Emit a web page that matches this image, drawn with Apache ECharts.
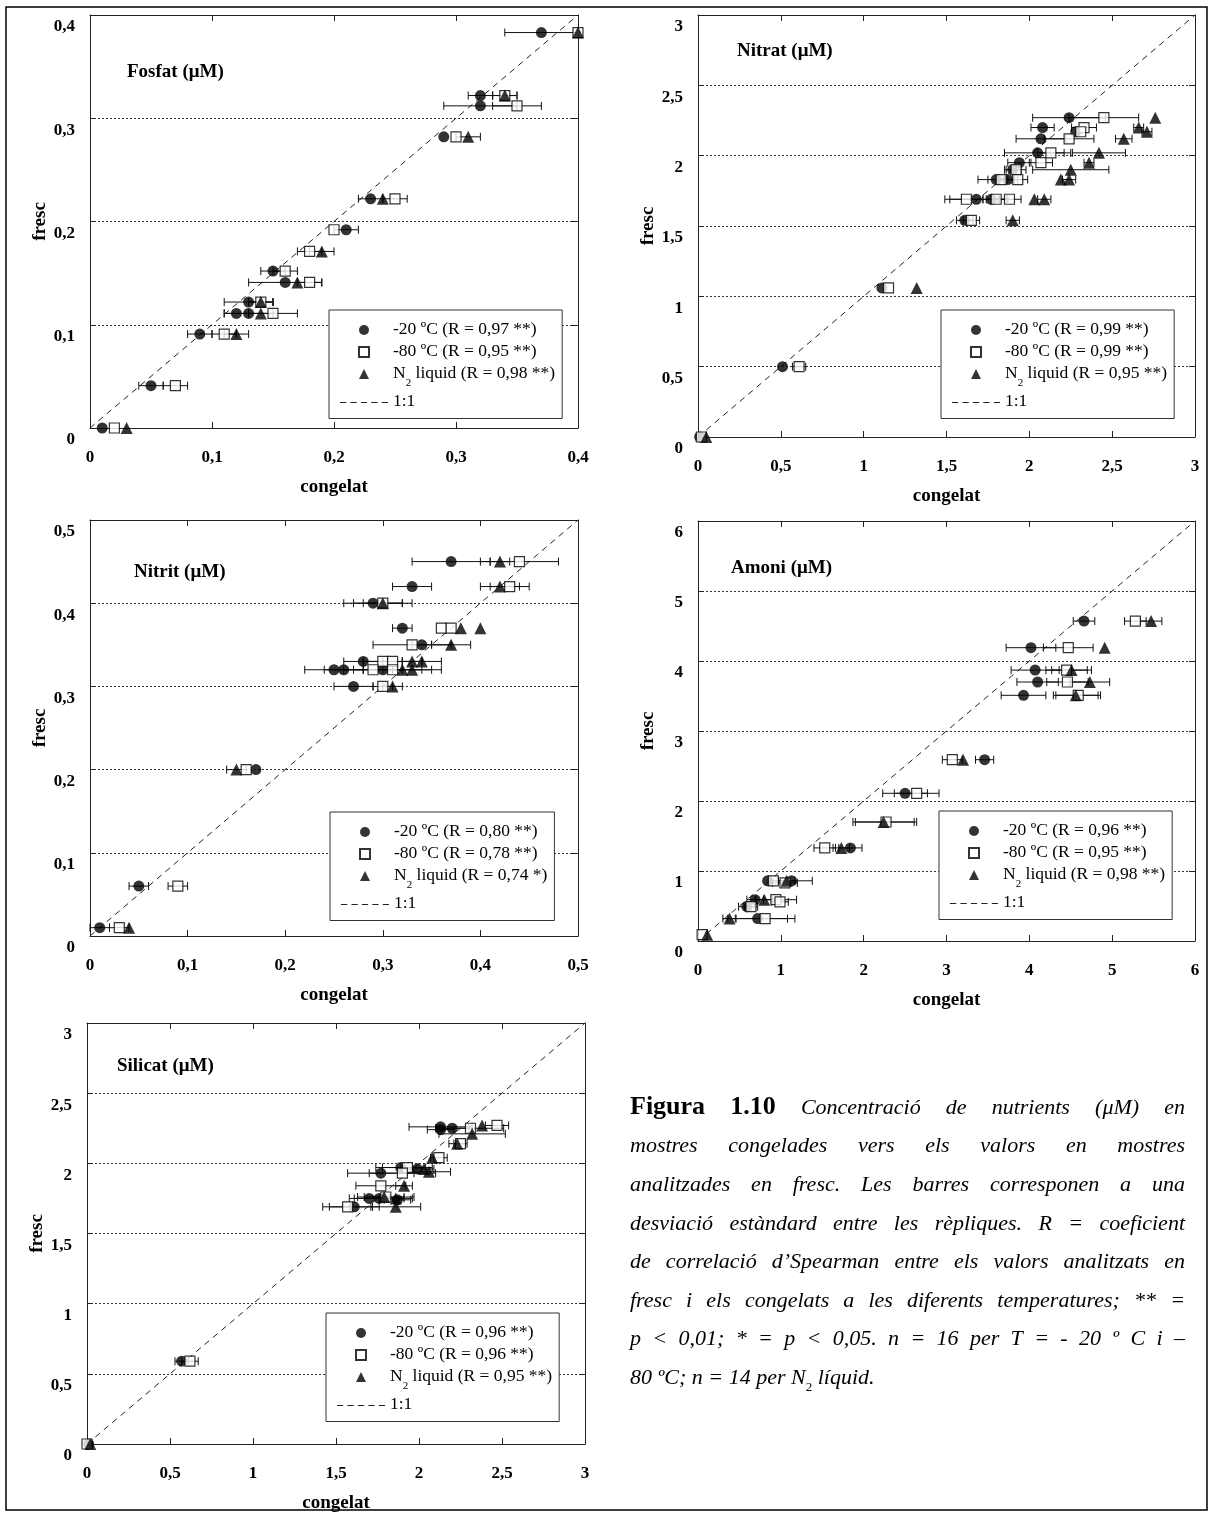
<!DOCTYPE html>
<html><head><meta charset="utf-8">
<script src="https://cdn.jsdelivr.net/npm/echarts@6/dist/echarts.min.js"></script>
<style>html,body{margin:0;padding:0;background:#fff}#c{width:1213px;height:1516px}</style>
</head><body><div id="c"></div>
<script>
// ---- DATA: [congelat, fresc, desviació estàndard (congelat)] ----
const fosfat20 = [[0.37,0.383,0.03],[0.32,0.322,0.01],[0.32,0.312,0.03],[0.29,0.282,0],[0.23,0.222,0.01],[0.21,0.192,0.01],[0.15,0.152,0.01],[0.16,0.141,0.03],[0.13,0.122,0.02],[0.12,0.111,0.01],[0.13,0.111,0.02],[0.09,0.091,0.01],[0.05,0.041,0.01],[0.01,0,0]];
const fosfat80 = [[0.40,0.383,0],[0.34,0.322,0.01],[0.35,0.312,0.02],[0.30,0.282,0],[0.25,0.222,0.01],[0.20,0.192,0],[0.18,0.171,0.01],[0.16,0.152,0.01],[0.18,0.141,0.01],[0.14,0.122,0.01],[0.15,0.111,0.02],[0.11,0.091,0.01],[0.07,0.041,0.01],[0.02,0,0]];
const fosfatN2 = [[0.40,0.383,0],[0.34,0.322,0.01],[0.31,0.282,0.01],[0.24,0.222,0],[0.19,0.171,0.01],[0.17,0.141,0],[0.14,0.122,0.01],[0.14,0.111,0],[0.12,0.091,0.01],[0.03,0,0]];

const nitrat20 = [[2.24,2.27,0.22],[2.08,2.20,0.07],[2.28,2.17,0],[2.07,2.12,0.15],[2.05,2.02,0.2],[1.94,1.95,0.07],[1.90,1.90,0.05],[1.80,1.83,0.11],[1.87,1.83,0.06],[1.68,1.69,0.19],[1.77,1.69,0.05],[1.61,1.54,0.05],[1.11,1.06,0],[0.51,0.50,0],[0.01,0,0]];
const nitrat80 = [[2.45,2.27,0.21],[2.33,2.20,0.075],[2.31,2.17,0],[2.24,2.12,0.15],[2.13,2.02,0.08],[2.07,1.95,0.07],[1.92,1.90,0.06],[1.83,1.83,0.08],[1.93,1.83,0.06],[1.62,1.69,0.1],[1.80,1.69,0.06],[1.88,1.69,0.07],[1.65,1.54,0.05],[1.15,1.06,0],[0.61,0.50,0.04],[0.02,0,0]];
const nitratN2 = [[2.76,2.27,0],[2.66,2.20,0.03],[2.71,2.17,0.03],[2.57,2.12,0.05],[2.42,2.02,0.16],[2.36,1.95,0.03],[2.25,1.90,0.23],[2.19,1.83,0],[2.24,1.83,0.04],[2.03,1.69,0],[2.09,1.69,0.04],[1.90,1.54,0.04],[1.32,1.06,0],[0.05,0,0]];

const nitrit20 = [[0.37,0.45,0.04],[0.33,0.42,0.02],[0.29,0.40,0.03],[0.32,0.37,0.01],[0.34,0.35,0.01],[0.28,0.33,0.02],[0.25,0.32,0.03],[0.26,0.32,0.02],[0.30,0.32,0.02],[0.27,0.30,0.02],[0.17,0.20,0],[0.05,0.06,0.01],[0.01,0.01,0.01]];
const nitrit80 = [[0.44,0.45,0.04],[0.43,0.42,0.02],[0.30,0.40,0.03],[0.36,0.37,0],[0.37,0.37,0],[0.33,0.35,0.04],[0.30,0.33,0.02],[0.31,0.33,0.03],[0.29,0.32,0.02],[0.31,0.32,0.05],[0.30,0.30,0.01],[0.16,0.20,0],[0.09,0.06,0.01],[0.03,0.01,0.01]];
const nitritN2 = [[0.42,0.45,0.01],[0.42,0.42,0.02],[0.30,0.40,0.02],[0.38,0.37,0],[0.40,0.37,0],[0.37,0.35,0.02],[0.33,0.33,0.01],[0.34,0.33,0.02],[0.32,0.32,0.02],[0.33,0.32,0.02],[0.31,0.30,0.01],[0.15,0.20,0.01],[0.04,0.01,0]];

const amoni20 = [[4.66,4.57,0.13],[4.02,4.19,0.3],[4.07,3.87,0.29],[4.10,3.70,0.25],[3.93,3.51,0.27],[3.46,2.59,0.11],[2.50,2.11,0.27],[1.84,1.33,0.14],[0.84,0.86,0],[1.13,0.86,0.25],[0.69,0.59,0.1],[0.59,0.49,0.1],[0.72,0.32,0.36]];
const amoni80 = [[5.28,4.57,0.13],[4.47,4.19,0.3],[4.45,3.87,0.25],[4.46,3.70,0.25],[4.59,3.51,0.27],[3.07,2.59,0.12],[2.64,2.11,0.27],[2.27,1.70,0.37],[1.53,1.33,0.13],[0.91,0.86,0],[1.05,0.83,0.15],[0.94,0.59,0.25],[0.99,0.56,0.1],[0.64,0.49,0.08],[0.81,0.32,0.36],[0.05,0.09,0]];
const amoniN2 = [[5.47,4.57,0.13],[4.91,4.19,0],[4.51,3.87,0.24],[4.73,3.70,0.24],[4.56,3.51,0.27],[3.20,2.59,0],[2.24,1.70,0.37],[1.73,1.33,0.1],[1.07,0.86,0.1],[0.80,0.59,0.1],[0.38,0.32,0.08],[0.11,0.09,0]];

const silicat20 = [[2.13,2.26,0.19],[2.13,2.24,0.08],[2.20,2.25,0.1],[1.89,1.97,0.15],[1.99,1.96,0.1],[1.77,1.93,0.2],[1.70,1.75,0.12],[1.76,1.75,0.15],[1.87,1.74,0.08],[1.61,1.69,0.15],[0.57,0.59,0.04],[0.01,0,0]];
const silicat80 = [[2.31,2.25,0.2],[2.47,2.27,0.07],[2.25,2.14,0.04],[2.12,2.04,0.05],[1.93,1.97,0.15],[1.90,1.93,0.2],[1.77,1.84,0.15],[1.80,1.76,0.17],[1.57,1.69,0.15],[0.62,0.59,0.05],[0,0,0]];
const silicatN2 = [[2.38,2.27,0],[2.32,2.21,0.2],[2.23,2.14,0.05],[2.08,2.04,0],[2.06,1.94,0.13],[2.03,1.96,0],[1.91,1.84,0.05],[1.79,1.76,0.12],[1.86,1.75,0.1],[1.86,1.69,0.15],[0.02,0,0]];

const panelTitles = ['Fosfat (μM)','Nitrat (μM)','Nitrit (μM)','Amoni (μM)','Silicat (μM)'];
const axisMax = [0.4, 3, 0.5, 6, 3];
const axisStep = [0.1, 0.5, 0.1, 1, 0.5];
const rValues = [['0,97 **','0,95 **','0,98 **'],['0,99 **','0,99 **','0,95 **'],['0,80 **','0,78 **','0,74 *'],['0,96 **','0,95 **','0,98 **'],['0,96 **','0,96 **','0,95 **']];
const seriesData = [[fosfat20,fosfat80,fosfatN2],[nitrat20,nitrat80,nitratN2],[nitrit20,nitrit80,nitritN2],[amoni20,amoni80,amoniN2],[silicat20,silicat80,silicatN2]];
const captionLines = [
  'Figura 1.10 Concentració de nutrients (μM) en',
  'mostres congelades vers els valors en mostres',
  'analitzades en fresc. Les barres corresponen a una',
  'desviació estàndard entre les rèpliques. R = coeficient',
  'de correlació d’Spearman entre els valors analitzats en',
  'fresc i els congelats a les diferents temperatures; ** =',
  'p < 0,01; * = p < 0,05. n = 16 per T = - 20 º C i –'
];

// ---- LAYOUT ----
const FONT = 'Liberation Serif';
const layout = [
  {grid:[90,15,488,413],  title:[127,63],  legend:[329,310]},
  {grid:[698,15,497,422], title:[737,42],  legend:[941,310]},
  {grid:[90,520,488,416], title:[134,563], legend:[330,812]},
  {grid:[698,521,497,420],title:[731,559], legend:[939,811]},
  {grid:[87,1023,498,421],title:[117,1057],legend:[326,1313]}
];

function fmtNum(v){ return String(Math.round(v*100)/100).replace('.', ','); }
const lineCol = '#222';

function errRender(params, api){
  const x = api.value(0), y = api.value(1), e = api.value(2);
  if (!e) return null;
  const a = api.coord([x - e, y]), b = api.coord([x + e, y]);
  const h = 4, st = {stroke:'#111', lineWidth:1};
  return {type:'group', children:[
    {type:'line', shape:{x1:a[0],y1:a[1],x2:b[0],y2:b[1]}, style:st},
    {type:'line', shape:{x1:a[0],y1:a[1]-h,x2:a[0],y2:a[1]+h}, style:st},
    {type:'line', shape:{x1:b[0],y1:b[1]-h,x2:b[0],y2:b[1]+h}, style:st}
  ]};
}

const option = {animation:false, backgroundColor:'#fff', grid:[], xAxis:[], yAxis:[], series:[], legend:[], title:[],
  graphic:[{type:'rect', shape:{x:6,y:7,width:1201,height:1503}, style:{fill:'none', stroke:'#000', lineWidth:1.5}, silent:true}]};

const tickStyle = {show:true, inside:true, length:6, lineStyle:{color:lineCol, width:1}};
const axLine = {show:true, onZero:false, lineStyle:{color:lineCol, width:1}};
const labStyle = {fontFamily:FONT, fontSize:17, fontWeight:'bold', color:'#000', formatter:fmtNum, showMinLabel:true, showMaxLabel:true};
const nameStyle = {fontFamily:FONT, fontSize:19, fontWeight:'bold', color:'#000'};

const symbols = [
  {symbol:'circle', size:11, itemStyle:{color:'#000'}, icon:'circle'},
  {symbol:'rect', size:10, itemStyle:{color:'#fff', borderColor:'#000', borderWidth:1.2}, icon:'path://M0 0h10v10h-10z'},
  {symbol:'triangle', size:12, itemStyle:{color:'#000'}, icon:'path://M5 0L10 10H0z'}
];
const labelsBase = ['-20 ºC (R = ', '-80 ºC (R = ', 'N2 liquid (R = '];
const dashIcon = 'path://' + [0,1,2,3,4].map(k => 'M' + (k*10) + ' 0h6v1h-6z').join('');

for (let i = 0; i < 5; i++) {
  const L = layout[i];
  option.grid.push({left:L.grid[0], top:L.grid[1], width:L.grid[2], height:L.grid[3], outerBoundsMode:'none', show:false});
  const common = {type:'value', min:0, max:axisMax[i], interval:axisStep[i], gridIndex:i};
  option.xAxis.push(Object.assign({}, common, {position:'bottom', name:'congelat', nameLocation:'middle', nameGap:50, nameTextStyle:nameStyle,
    axisLine:axLine, axisTick:tickStyle, axisLabel:Object.assign({margin:21}, labStyle), splitLine:{show:false}}));
  option.xAxis.push(Object.assign({}, common, {position:'top', axisLine:axLine, axisTick:tickStyle, axisLabel:{show:false}, splitLine:{show:false}}));
  option.yAxis.push(Object.assign({}, common, {position:'left', name:'fresc', nameLocation:'middle', nameGap:40, nameRotate:90, nameTextStyle:nameStyle,
    axisLine:axLine, axisTick:tickStyle, axisLabel:Object.assign({margin:15, verticalAlign:'top', lineHeight:24}, labStyle),
    splitLine:{show:true, lineStyle:{type:[2,2], color:'#333', width:1}}}));
  option.yAxis.push(Object.assign({}, common, {position:'right', axisLine:axLine, axisTick:tickStyle, axisLabel:{show:false}, splitLine:{show:false}}));
  const xi = 2*i, yi = 2*i;
  const names = [];
  option.series.push({type:'line', name:'1:1', xAxisIndex:xi, yAxisIndex:yi, data:[[0,0],[axisMax[i],axisMax[i]]],
    symbol:'none', silent:true, z:1, lineStyle:{type:[6,5], width:1, color:'#222'}, itemStyle:{color:'#222'}});
  for (let s = 0; s < 3; s++) {
    const nm = labelsBase[s] + rValues[i][s] + ')';
    names.push(nm);
    option.series.push({type:'custom', name:'err'+i+'_'+s, xAxisIndex:xi, yAxisIndex:yi, data:seriesData[i][s],
      encode:{x:0, y:1}, renderItem:errRender, clip:false, silent:true, z:2});
  }
  for (let s = 0; s < 3; s++) {
    option.series.push({type:'scatter', name:names[s], xAxisIndex:xi, yAxisIndex:yi, data:seriesData[i][s].map(d=>[d[0],d[1]]),
      symbol:symbols[s].symbol, symbolSize:symbols[s].size, itemStyle:symbols[s].itemStyle, clip:false, z:3+s});
  }
  const legendData = names.map((n, s) => ({name:n, icon:symbols[s].icon}));
  legendData.push({name:'1:1', icon:dashIcon});
  option.legend.push({left:L.legend[0], top:L.legend[1], orient:'vertical', padding:[10,7,8,11], itemGap:4, itemWidth:48, itemHeight:10,
    symbolKeepAspect:true, borderColor:'#333', borderWidth:1, backgroundColor:'#fff', selectedMode:false, data:legendData,
    formatter: n => n.indexOf('N2') === 0 ? '{t|N}{s|2}{t|' + n.slice(2) + '}' : '{t|' + n + '}',
    textStyle:{fontFamily:FONT, fontSize:17.5, color:'#000',
      rich:{t:{fontFamily:FONT, fontSize:17.5, color:'#000', lineHeight:20, verticalAlign:'top'},
            s:{fontFamily:FONT, fontSize:11, color:'#000', lineHeight:9, padding:[13.5,0,0,0], verticalAlign:'top'}}}});
  option.title.push({text:panelTitles[i], left:L.title[0], top:L.title[1], padding:0,
    textStyle:{fontFamily:FONT, fontSize:19, fontWeight:'bold', color:'#000'}});
}

// ---- CAPTION (justified) ----
const ctx = document.createElement('canvas').getContext('2d');
const fItal = 'italic 22px "Liberation Serif"', fBold = 'bold 26px "Liberation Serif"';
function tw(t, f){ ctx.font = f; return ctx.measureText(t).width; }
const capLeft = 630, capRight = 1185, capY0 = 1108, capStep = 38.6;
captionLines.forEach((line, li) => {
  const words = line.split(' ');
  const fonts = words.map((w, k) => (li === 0 && k < 2) ? fBold : fItal);
  const widths = words.map((w, k) => tw(w, fonts[k]));
  const total = widths.reduce((a, b) => a + b, 0);
  const gap = (capRight - capLeft - total) / (words.length - 1);
  let x = capLeft;
  const y = capY0 + li * capStep;
  words.forEach((w, k) => {
    option.graphic.push({type:'text', x:x, y:y + (fonts[k] === fBold ? -1 : 0), silent:true,
      style:{text:w, font:fonts[k], fill:'#000', verticalAlign:'middle', align:'left'}});
    x += widths[k] + gap;
  });
});
option.graphic.push({type:'text', x:capLeft, y:capY0 + 7*capStep + 1, silent:true,
  style:{text:'{i|80 ºC; n = 14 per N}{s|2}{i| líquid.}', verticalAlign:'middle', align:'left',
    rich:{i:{font:fItal, fill:'#000', lineHeight:24, verticalAlign:'top'}, s:{fontFamily:FONT, fontStyle:'normal', fontSize:13, fill:'#000', lineHeight:11, padding:[14,0,0,0], verticalAlign:'top'}}}});

const chart = echarts.init(document.getElementById('c'), null, {renderer:'canvas'});
chart.setOption(option);
</script></body></html>
